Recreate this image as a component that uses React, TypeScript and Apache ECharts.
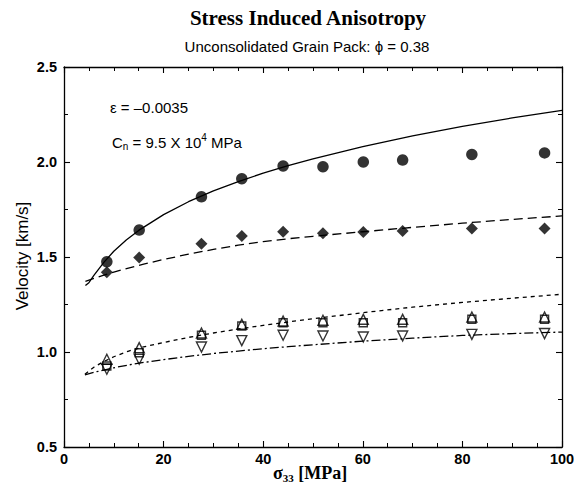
import React, { useEffect, useRef } from "react";
import * as echarts from "echarts";

// Measured stress levels (MPa)
const sigma = [8.6, 15.1, 27.6, 35.7, 44, 52, 60.1, 68, 81.9, 96.5];
// Measured velocities (km/s)
const vCircle = [1.475, 1.642, 1.817, 1.912, 1.979, 1.975, 2.0, 2.01, 2.04, 2.048];
const vDiamond = [1.42, 1.497, 1.57, 1.61, 1.633, 1.625, 1.632, 1.637, 1.65, 1.65];
const vTriUp = [0.962, 1.023, 1.1, 1.146, 1.163, 1.167, 1.172, 1.172, 1.184, 1.184];
const vSquare = [0.926, 0.996, 1.088, 1.137, 1.154, 1.154, 1.154, 1.154, 1.172, 1.172];
const vTriDown = [0.909, 0.962, 1.026, 1.06, 1.088, 1.084, 1.079, 1.084, 1.093, 1.097];

// Model curves
const solidX = [4.3, 5, 6, 7, 8, 10, 12.5, 15, 20, 25, 30, 35, 40, 45, 50, 60, 70, 80, 90, 100];
const solidY = [1.35, 1.365, 1.403, 1.438, 1.472, 1.53, 1.589, 1.64, 1.723, 1.791, 1.848, 1.897, 1.941, 1.981, 2.017, 2.081, 2.138, 2.188, 2.232, 2.272];
const longDashX = [4.3, 8, 12, 16, 20, 25, 30, 35, 40, 45, 50, 60, 70, 80, 90, 100];
const longDashY = [1.372, 1.405, 1.435, 1.462, 1.487, 1.515, 1.54, 1.562, 1.581, 1.596, 1.609, 1.633, 1.656, 1.678, 1.698, 1.716];
const shortDashX = [4.2, 6, 8, 10, 13, 16, 20, 25, 30, 35, 40, 45, 50, 60, 70, 80, 90, 100];
const shortDashY = [0.883, 0.92, 0.95, 0.975, 1.005, 1.027, 1.05, 1.077, 1.1, 1.121, 1.14, 1.158, 1.175, 1.207, 1.236, 1.261, 1.283, 1.304];
const dashDotX = [4.2, 6, 8, 10, 13, 16, 20, 25, 30, 35, 40, 45, 50, 60, 70, 80, 90, 100];
const dashDotY = [0.88, 0.893, 0.905, 0.917, 0.932, 0.945, 0.96, 0.977, 0.992, 1.005, 1.017, 1.028, 1.038, 1.057, 1.073, 1.087, 1.097, 1.105];

const xTicks = { min: 0, max: 100, interval: 20 };
const yTicks = { min: 0.5, max: 2.5, interval: 0.5 };

const zip = (xs: number[], ys: number[]) => xs.map((x, i) => [x, ys[i]]);

const SANS = "'Liberation Sans', Arial, Helvetica, sans-serif";
const SERIF = "'Liberation Serif', 'Times New Roman', serif";

export default function App() {
  const ref = useRef<HTMLDivElement>(null);
  useEffect(() => {
    if (!ref.current) return;
    const chart = echarts.init(ref.current, undefined, { renderer: "svg" });
    const axisCommon = {
      axisLine: { show: true, onZero: false, lineStyle: { color: "#000", width: 1.3 } },
      axisTick: { show: true, inside: true, length: 6, lineStyle: { color: "#000", width: 1.1 } },
      minorTick: { show: true, length: 4, lineStyle: { color: "#000", width: 1 } },
      splitLine: { show: false },
    };
    const labelStyle = { color: "#000", fontFamily: SANS, fontSize: 14.5, fontWeight: "bold" as const };
    const markerLine = { color: "#000", width: 1.3 };
    const openMarker = { color: "rgba(255,255,255,0)", borderColor: "#000", borderWidth: 1.4 };
    const curve = (xs: number[], ys: number[], type: any) => ({
      type: "line",
      data: zip(xs, ys),
      smooth: false,
      symbol: "none",
      lineStyle: { ...markerLine, type },
      z: 2,
    });
    const option: any = {
      animation: false,
      backgroundColor: "#fff",
      grid: { left: 64, right: 12, top: 67, bottom: 39, outerBoundsMode: "none", containLabel: false },
      xAxis: [
        {
          type: "value",
          position: "bottom",
          ...xTicks,
          ...axisCommon,
          minorTick: { ...axisCommon.minorTick, splitNumber: 4 },
          axisLabel: { ...labelStyle, margin: 4 },
        },
        {
          type: "value",
          position: "top",
          ...xTicks,
          ...axisCommon,
          minorTick: { ...axisCommon.minorTick, splitNumber: 4 },
          axisLabel: { show: false },
        },
      ],
      yAxis: [
        {
          type: "value",
          position: "left",
          ...yTicks,
          ...axisCommon,
          minorTick: { ...axisCommon.minorTick, splitNumber: 2 },
          axisLabel: { ...labelStyle, margin: 7, formatter: (v: number) => v.toFixed(1) },
        },
        {
          type: "value",
          position: "right",
          ...yTicks,
          ...axisCommon,
          minorTick: { ...axisCommon.minorTick, splitNumber: 2 },
          axisLabel: { show: false },
        },
      ],
      graphic: [
        {
          type: "text",
          x: 308,
          y: 18,
          style: {
            text: "Stress Induced Anisotropy",
            fontFamily: SERIF,
            fontSize: 21,
            fontWeight: "bold",
            fill: "#000",
            align: "center",
            verticalAlign: "middle",
          },
        },
        {
          type: "text",
          x: 307,
          y: 46,
          style: {
            text: "Unconsolidated Grain Pack: ϕ = 0.38",
            fontFamily: SANS,
            fontSize: 15,
            fill: "#000",
            align: "center",
            verticalAlign: "middle",
          },
        },
        {
          type: "text",
          x: 22,
          y: 256,
          rotation: Math.PI / 2,
          style: {
            text: "Velocity [km/s]",
            fontFamily: SANS,
            fontSize: 17,
            fill: "#000",
            align: "center",
            verticalAlign: "middle",
          },
        },
        {
          type: "text",
          x: 310,
          y: 473,
          style: {
            text: "{s|σ}{sub|33}{b| [MPa]}",
            align: "center",
            verticalAlign: "middle",
            rich: {
              s: { fontFamily: SERIF, fontSize: 18, fill: "#000", fontWeight: "bold" },
              sub: { fontFamily: SERIF, fontSize: 11, fill: "#000", fontWeight: "bold", padding: [9, 0, 0, 0] },
              b: { fontFamily: SERIF, fontSize: 18, fill: "#000", fontWeight: "bold" },
            },
          },
        },
        {
          type: "text",
          x: 110,
          y: 107,
          style: {
            text: "ε = –0.0035",
            fontFamily: SANS,
            fontSize: 15,
            fill: "#000",
            align: "left",
            verticalAlign: "middle",
          },
        },
        {
          type: "text",
          x: 112,
          y: 142,
          style: {
            text: "{t|C}{sub|n}{t| = 9.5 X 10}{sup|4}{t| MPa}",
            fill: "#000",
            align: "left",
            verticalAlign: "middle",
            rich: {
              t: { fontFamily: SANS, fontSize: 15, fill: "#000" },
              sub: { fontFamily: SANS, fontSize: 10, fill: "#000", padding: [8, 0, 0, 0] },
              sup: { fontFamily: SANS, fontSize: 10, fill: "#000", padding: [0, 0, 9, 0] },
            },
          },
        },
      ],
      series: [
        curve(solidX, solidY, "solid"),
        curve(longDashX, longDashY, [9, 5]),
        curve(shortDashX, shortDashY, [4, 4]),
        curve(dashDotX, dashDotY, [9, 3, 2, 3]),
        {
          type: "scatter",
          data: zip(sigma, vCircle),
          symbol: "circle",
          symbolSize: 11.5,
          itemStyle: { color: "#000" },
          z: 3,
        },
        {
          type: "scatter",
          data: zip(sigma, vDiamond),
          symbol: "diamond",
          symbolSize: [12, 12],
          itemStyle: { color: "#000" },
          z: 3,
        },
        {
          type: "scatter",
          data: zip(sigma, vSquare),
          symbol: "rect",
          symbolSize: 8,
          itemStyle: openMarker,
          z: 3,
        },
        {
          type: "scatter",
          data: zip(sigma, vTriUp),
          symbol: "triangle",
          symbolSize: [10, 10],
          itemStyle: openMarker,
          z: 3,
        },
        {
          type: "scatter",
          data: zip(sigma, vTriDown),
          symbol: "triangle",
          symbolRotate: 180,
          symbolSize: [10, 10],
          itemStyle: openMarker,
          z: 3,
        },
      ],
    };
    chart.setOption(option);
    return () => chart.dispose();
  }, []);
  return (
    <div
      ref={ref}
      style={{ position: "fixed", left: 0, top: 0, width: 574, height: 486, background: "#fff" }}
    />
  );
}
